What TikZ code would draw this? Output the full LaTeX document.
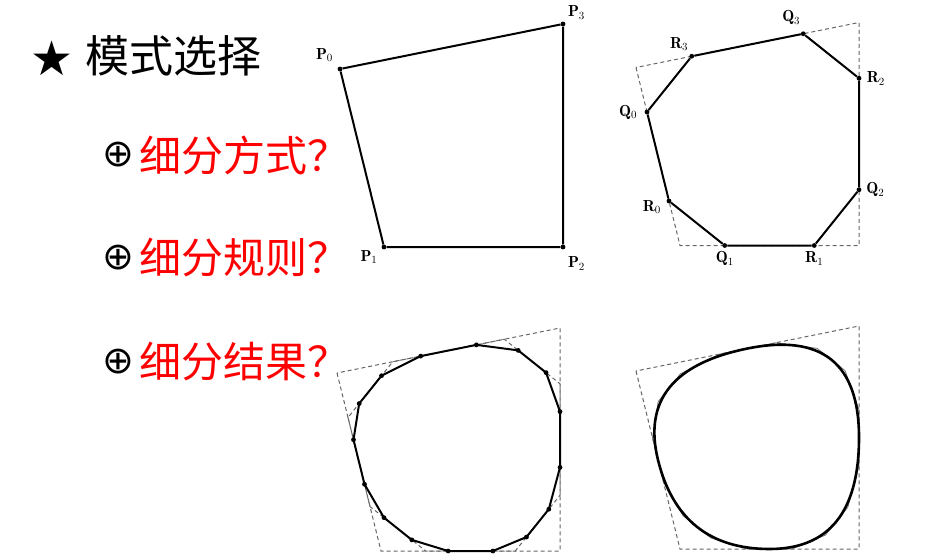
\documentclass[tikz,border=0pt]{standalone}
\usepackage{fontspec}
\newfontfamily\cjk{Noto Sans CJK SC}
\newfontfamily\symb{DejaVu Sans}
\usetikzlibrary{positioning, calc}

\begin{document}
\begin{tikzpicture}[x=1pt, y=-1pt,
    dot/.style={circle, fill=black, inner sep=0pt, minimum size=4.8pt},
    lbl/.style={font=\fontsize{16}{16}\selectfont, inner sep=1pt},
    hull/.style={draw=black!60, line width=1pt, dash pattern=on 4pt off 3pt},
    poly/.style={draw=black, line width=2pt, line join=round},
    fine/.style={draw=black!55, line width=0.8pt},
    curve/.style={draw=black, line width=2.6pt},
    heading/.style={font=\cjk\fontsize{44}{44}\selectfont, anchor=west, inner sep=0pt},
    question/.style={font=\cjk\fontsize{42}{42}\selectfont, text=red, inner sep=0pt},
    bullet/.style={font=\symb\fontsize{38}{38}\selectfont, inner sep=0pt}]

\useasboundingbox (0,0) rectangle (925,556);

% Text on the left
\node[font=\symb\fontsize{48}{48}\selectfont, inner sep=0pt] (star) at (52,58) {★};
\node[heading] (title) at (85,56) {模式选择};
\node[bullet] (b1) at (118,155) {⊕};
\node[bullet] (b2) at (118,258) {⊕};
\node[bullet] (b3) at (118,362) {⊕};
\node[question, right=5pt of b1] (ask1) {细分方式？};
\node[question, right=5pt of b2] (ask2) {细分规则？};
\node[question, right=5pt of b3] (ask3) {细分结果？};

% Control polygon
\node[dot] (ap0) at (340,69) {};
\node[dot] (ap1) at (384,247) {};
\node[dot] (ap2) at (563,247) {};
\node[dot] (ap3) at (563,24) {};
\draw[poly] (ap0) -- (ap1) -- (ap2) -- (ap3) -- (ap0);
\node[lbl, above left=4pt and 4pt of ap0] (lp0) {$\mathbf{P}_0$};
\node[lbl, below left=0pt and 3.5pt of ap1] (lp1) {$\mathbf{P}_1$};
\node[lbl, below right=6.5pt and 2pt of ap2] (lp2) {$\mathbf{P}_2$};
\node[lbl, above right=1.5pt and 2pt of ap3] (lp3) {$\mathbf{P}_3$};

% First subdivision step
\begin{scope}[shift={(296,-1.5)}]
    \coordinate (bp0) at (340,69);
    \coordinate (bp1) at (384,247);
    \coordinate (bp2) at (563,247);
    \coordinate (bp3) at (563,24);
\end{scope}
\draw[hull] (bp0) -- (bp1) -- (bp2) -- (bp3) -- cycle;
\node[dot] (bq0) at ($(bp0)!0.25!(bp1)$) {};
\node[dot] (br0) at ($(bp0)!0.75!(bp1)$) {};
\node[dot] (bq1) at ($(bp1)!0.25!(bp2)$) {};
\node[dot] (br1) at ($(bp1)!0.75!(bp2)$) {};
\node[dot] (bq2) at ($(bp2)!0.25!(bp3)$) {};
\node[dot] (br2) at ($(bp2)!0.75!(bp3)$) {};
\node[dot] (bq3) at ($(bp3)!0.25!(bp0)$) {};
\node[dot] (br3) at ($(bp3)!0.75!(bp0)$) {};
\draw[poly] (bq0) -- (br0) -- (bq1) -- (br1) -- (bq2) -- (br2) -- (bq3) -- (br3) -- (bq0);
\node[lbl, left=6pt of bq0] (lq0) {$\mathbf{Q}_0$};
\node[lbl, below left=-4pt and 5pt of br0] (lr0) {$\mathbf{R}_0$};
\node[lbl, below=2.5pt of bq1] (lq1) {$\mathbf{Q}_1$};
\node[lbl, below=2.5pt of br1] (lr1) {$\mathbf{R}_1$};
\node[lbl, right=3.5pt of bq2] (lq2) {$\mathbf{Q}_2$};
\node[lbl, right=4pt of br2] (lr2) {$\mathbf{R}_2$};
\node[lbl, above left=6pt and 0pt of bq3] (lq3) {$\mathbf{Q}_3$};
\node[lbl, above left=2.5pt and 0.5pt of br3] (lr3) {$\mathbf{R}_3$};

% Second subdivision step
\begin{scope}[shift={(-3,304)}]
    \coordinate (cp0) at (340,69);
    \coordinate (cp1) at (384,247);
    \coordinate (cp2) at (563,247);
    \coordinate (cp3) at (563,24);
\end{scope}
\foreach \i in {0,...,3} {
    \pgfmathtruncatemacro\nx{mod(\i+1,4)}
    \pgfmathtruncatemacro\ka{2*\i}
    \pgfmathtruncatemacro\kb{2*\i+1}
    \coordinate (c1-\ka) at ($(cp\i)!0.25!(cp\nx)$);
    \coordinate (c1-\kb) at ($(cp\i)!0.75!(cp\nx)$);
}
\foreach \k in {0,...,7} {
    \pgfmathtruncatemacro\nx{mod(\k+1,8)}
    \pgfmathtruncatemacro\ka{2*\k}
    \pgfmathtruncatemacro\kb{2*\k+1}
    \coordinate (c2-\ka) at ($(c1-\k)!0.25!(c1-\nx)$);
    \coordinate (c2-\kb) at ($(c1-\k)!0.75!(c1-\nx)$);
}
\draw[hull] (cp0) -- (cp1) -- (cp2) -- (cp3) -- cycle;
\draw[hull] (c1-0) \foreach \k in {1,...,7} {-- (c1-\k)} -- cycle;
\draw[poly] (c2-0) \foreach \k in {1,...,15} {-- (c2-\k)} -- cycle;
\foreach \k in {0,...,15}
    \node[dot] (cd\k) at (c2-\k) {};

% Limit curve
\begin{scope}[shift={(296,302)}]
    \coordinate (dp0) at (340,69);
    \coordinate (dp1) at (384,247);
    \coordinate (dp2) at (563,247);
    \coordinate (dp3) at (563,24);
\end{scope}
\foreach \i in {0,...,3} {
    \pgfmathtruncatemacro\nx{mod(\i+1,4)}
    \pgfmathtruncatemacro\ka{2*\i}
    \pgfmathtruncatemacro\kb{2*\i+1}
    \coordinate (d1-\ka) at ($(dp\i)!0.25!(dp\nx)$);
    \coordinate (d1-\kb) at ($(dp\i)!0.75!(dp\nx)$);
    \coordinate (dm\i) at ($(dp\i)!0.5!(dp\nx)$);
}
\foreach \k in {0,...,7} {
    \pgfmathtruncatemacro\nx{mod(\k+1,8)}
    \pgfmathtruncatemacro\ka{2*\k}
    \pgfmathtruncatemacro\kb{2*\k+1}
    \coordinate (d2-\ka) at ($(d1-\k)!0.25!(d1-\nx)$);
    \coordinate (d2-\kb) at ($(d1-\k)!0.75!(d1-\nx)$);
}
\draw[hull] (dp0) -- (dp1) -- (dp2) -- (dp3) -- cycle;
\draw[fine] (d2-0) \foreach \k in {1,...,15} {-- (d2-\k)} -- cycle;
\draw[curve] (dm3) \foreach \i [remember=\i as \h (initially 3)] in {0,...,3}
    { .. controls ($(dm\h)!2/3!(dp\i)$) and ($(dm\i)!2/3!(dp\i)$) .. (dm\i)} -- cycle;

\end{tikzpicture}
\end{document}
